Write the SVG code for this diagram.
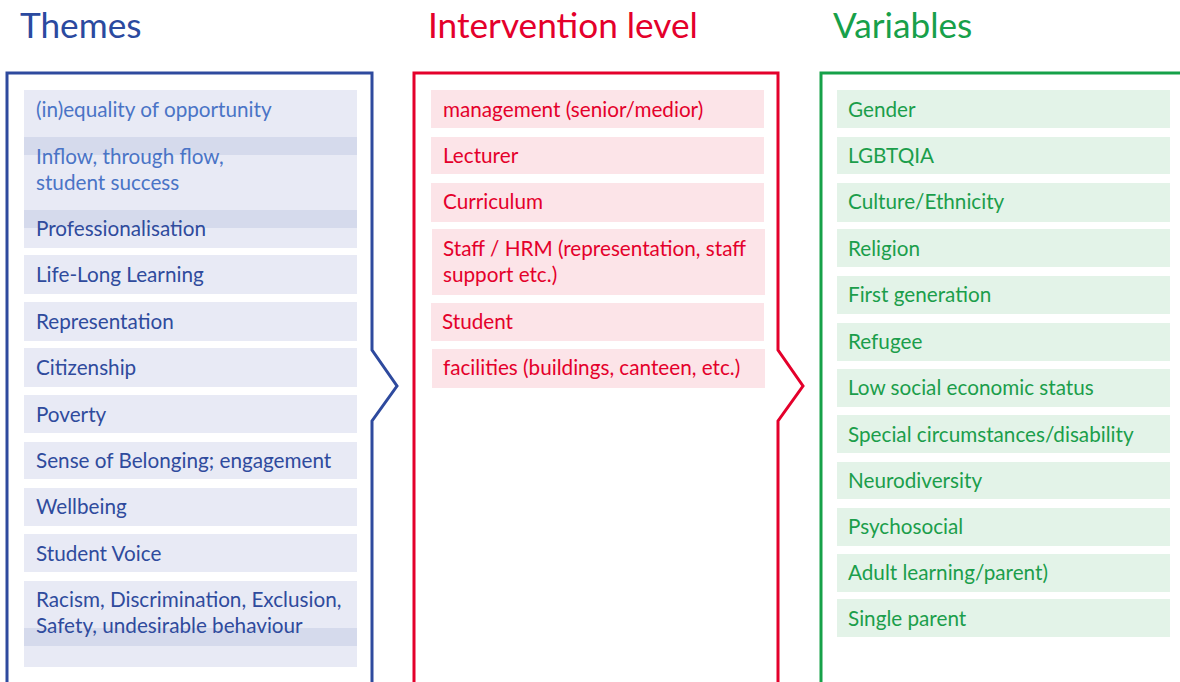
<svg xmlns="http://www.w3.org/2000/svg" width="1180" height="682" viewBox="0 0 1180 682">
  <style>
    text { font-family: Lato, "Noto Sans", sans-serif; }
    .title { font-size: 35.2px; }
    .lbl { font-size: 20.7px; }
    .panel { fill: none; stroke-width: 3; stroke-linejoin: miter; }
    .blue-bar { fill: #e8eaf5; }
    .blue-ovl { fill: #d5daec; }
    .red-bar { fill: #fce4e8; }
    .green-bar { fill: #e3f3e8; }
    .blue-t { fill: #2f4b9d; }
    .blue-lt { fill: #4a74c6; }
    .red-t { fill: #e4002b; }
    .green-t { fill: #1b9e4b; }
  </style>

  <rect width="1180" height="682" fill="#ffffff"/>

  <!-- column headings -->
  <g id="headings">
    <text class="title" x="20" y="38" fill="#2b4a9f">Themes</text>
    <text class="title" x="428" y="38" fill="#e4002b">Intervention level</text>
    <text class="title" x="833" y="38" fill="#17a04a">Variables</text>
  </g>

  <!-- panel outlines with chevron notches -->
  <g id="panels">
    <path class="panel" stroke="#2e4a9e" d="M7,690 V73 H372 V350 L397,386 L372,421 V690"/>
    <path class="panel" stroke="#e4002b" d="M414,690 V73 H778 V350 L803,386 L778,421 V690"/>
    <path class="panel" stroke="#16a149" d="M821,690 V73 H1190"/>
  </g>

  <g id="connectors"></g>

  <!-- Themes -->
  <g id="themes">
    <g id="theme-equality">
      <rect class="blue-bar" x="24" y="90" width="333" height="65"/>
      <text class="lbl blue-lt" x="36" y="117">(in)equality of opportunity</text>
    </g>
    <g id="theme-inflow">
      <rect class="blue-bar" x="24" y="137" width="333" height="91"/>
      <rect class="blue-ovl" x="24" y="137" width="333" height="18"/>
      <text class="lbl blue-lt" x="36" y="164">Inflow, through flow,</text>
      <text class="lbl blue-lt" x="36" y="190">student success</text>
    </g>
    <g id="theme-professionalisation">
      <rect class="blue-bar" x="24" y="210" width="333" height="38"/>
      <rect class="blue-ovl" x="24" y="210" width="333" height="18"/>
      <text class="lbl blue-t" x="36" y="236">Professionalisation</text>
    </g>
    <g id="theme-lifelong">
      <rect class="blue-bar" x="24" y="255" width="333" height="39"/>
      <text class="lbl blue-t" x="36" y="282">Life-Long Learning</text>
    </g>
    <g id="theme-representation">
      <rect class="blue-bar" x="24" y="302" width="333" height="39"/>
      <text class="lbl blue-t" x="36" y="329">Representation</text>
    </g>
    <g id="theme-citizenship">
      <rect class="blue-bar" x="24" y="348" width="333" height="39"/>
      <text class="lbl blue-t" x="36" y="375">Citizenship</text>
    </g>
    <g id="theme-poverty">
      <rect class="blue-bar" x="24" y="395" width="333" height="38"/>
      <text class="lbl blue-t" x="36" y="422">Poverty</text>
    </g>
    <g id="theme-belonging">
      <rect class="blue-bar" x="24" y="442" width="333" height="37"/>
      <text class="lbl blue-t" x="36" y="468">Sense of Belonging; engagement</text>
    </g>
    <g id="theme-wellbeing">
      <rect class="blue-bar" x="24" y="488" width="333" height="38"/>
      <text class="lbl blue-t" x="36" y="514">Wellbeing</text>
    </g>
    <g id="theme-voice">
      <rect class="blue-bar" x="24" y="534" width="333" height="38"/>
      <text class="lbl blue-t" x="36" y="561">Student Voice</text>
    </g>
    <g id="theme-racism">
      <rect class="blue-bar" x="24" y="581" width="333" height="86"/>
      <rect class="blue-ovl" x="24" y="628" width="333" height="18"/>
      <text class="lbl blue-t" x="36" y="607">Racism, Discrimination, Exclusion,</text>
      <text class="lbl blue-t" x="36" y="633">Safety, undesirable behaviour</text>
    </g>
  </g>

  <!-- Intervention level -->
  <g id="levels">
    <g id="level-management">
      <rect class="red-bar" x="431" y="90" width="333" height="38"/>
      <text class="lbl red-t" x="443" y="117">management (senior/medior)</text>
    </g>
    <g id="level-lecturer">
      <rect class="red-bar" x="431" y="137" width="333" height="37"/>
      <text class="lbl red-t" x="443" y="163">Lecturer</text>
    </g>
    <g id="level-curriculum">
      <rect class="red-bar" x="431" y="183" width="333" height="39"/>
      <text class="lbl red-t" x="443" y="209">Curriculum</text>
    </g>
    <g id="level-staff">
      <rect class="red-bar" x="432" y="229" width="333" height="66"/>
      <text class="lbl red-t" x="443" y="256">Staff / HRM (representation, staff</text>
      <text class="lbl red-t" x="443" y="282">support etc.)</text>
    </g>
    <g id="level-student">
      <rect class="red-bar" x="431" y="303" width="333" height="38"/>
      <text class="lbl red-t" x="442" y="329">Student</text>
    </g>
    <g id="level-facilities">
      <rect class="red-bar" x="432" y="349" width="333" height="39"/>
      <text class="lbl red-t" x="443" y="375">facilities (buildings, canteen, etc.)</text>
    </g>
  </g>

  <!-- Variables -->
  <g id="variables">
    <g id="var-gender">
      <rect class="green-bar" x="837" y="90" width="333" height="38"/>
      <text class="lbl green-t" x="848" y="117">Gender</text>
    </g>
    <g id="var-lgbtqia">
      <rect class="green-bar" x="837" y="137" width="333" height="37"/>
      <text class="lbl green-t" x="848" y="163">LGBTQIA</text>
    </g>
    <g id="var-culture">
      <rect class="green-bar" x="837" y="183" width="333" height="39"/>
      <text class="lbl green-t" x="848" y="209">Culture/Ethnicity</text>
    </g>
    <g id="var-religion">
      <rect class="green-bar" x="837" y="229" width="333" height="38"/>
      <text class="lbl green-t" x="848" y="256">Religion</text>
    </g>
    <g id="var-firstgen">
      <rect class="green-bar" x="837" y="276" width="333" height="38"/>
      <text class="lbl green-t" x="848" y="302">First generation</text>
    </g>
    <g id="var-refugee">
      <rect class="green-bar" x="837" y="323" width="333" height="38"/>
      <text class="lbl green-t" x="848" y="349">Refugee</text>
    </g>
    <g id="var-ses">
      <rect class="green-bar" x="837" y="369" width="333" height="38"/>
      <text class="lbl green-t" x="848" y="395">Low social economic status</text>
    </g>
    <g id="var-special">
      <rect class="green-bar" x="837" y="415" width="333" height="38"/>
      <text class="lbl green-t" x="848" y="442">Special circumstances/disability</text>
    </g>
    <g id="var-neuro">
      <rect class="green-bar" x="837" y="462" width="333" height="37"/>
      <text class="lbl green-t" x="848" y="488">Neurodiversity</text>
    </g>
    <g id="var-psycho">
      <rect class="green-bar" x="837" y="508" width="333" height="38"/>
      <text class="lbl green-t" x="848" y="534">Psychosocial</text>
    </g>
    <g id="var-adult">
      <rect class="green-bar" x="837" y="554" width="333" height="38"/>
      <text class="lbl green-t" x="848" y="580">Adult learning/parent)</text>
    </g>
    <g id="var-single">
      <rect class="green-bar" x="837" y="599" width="333" height="38"/>
      <text class="lbl green-t" x="848" y="626">Single parent</text>
    </g>
  </g>
</svg>
